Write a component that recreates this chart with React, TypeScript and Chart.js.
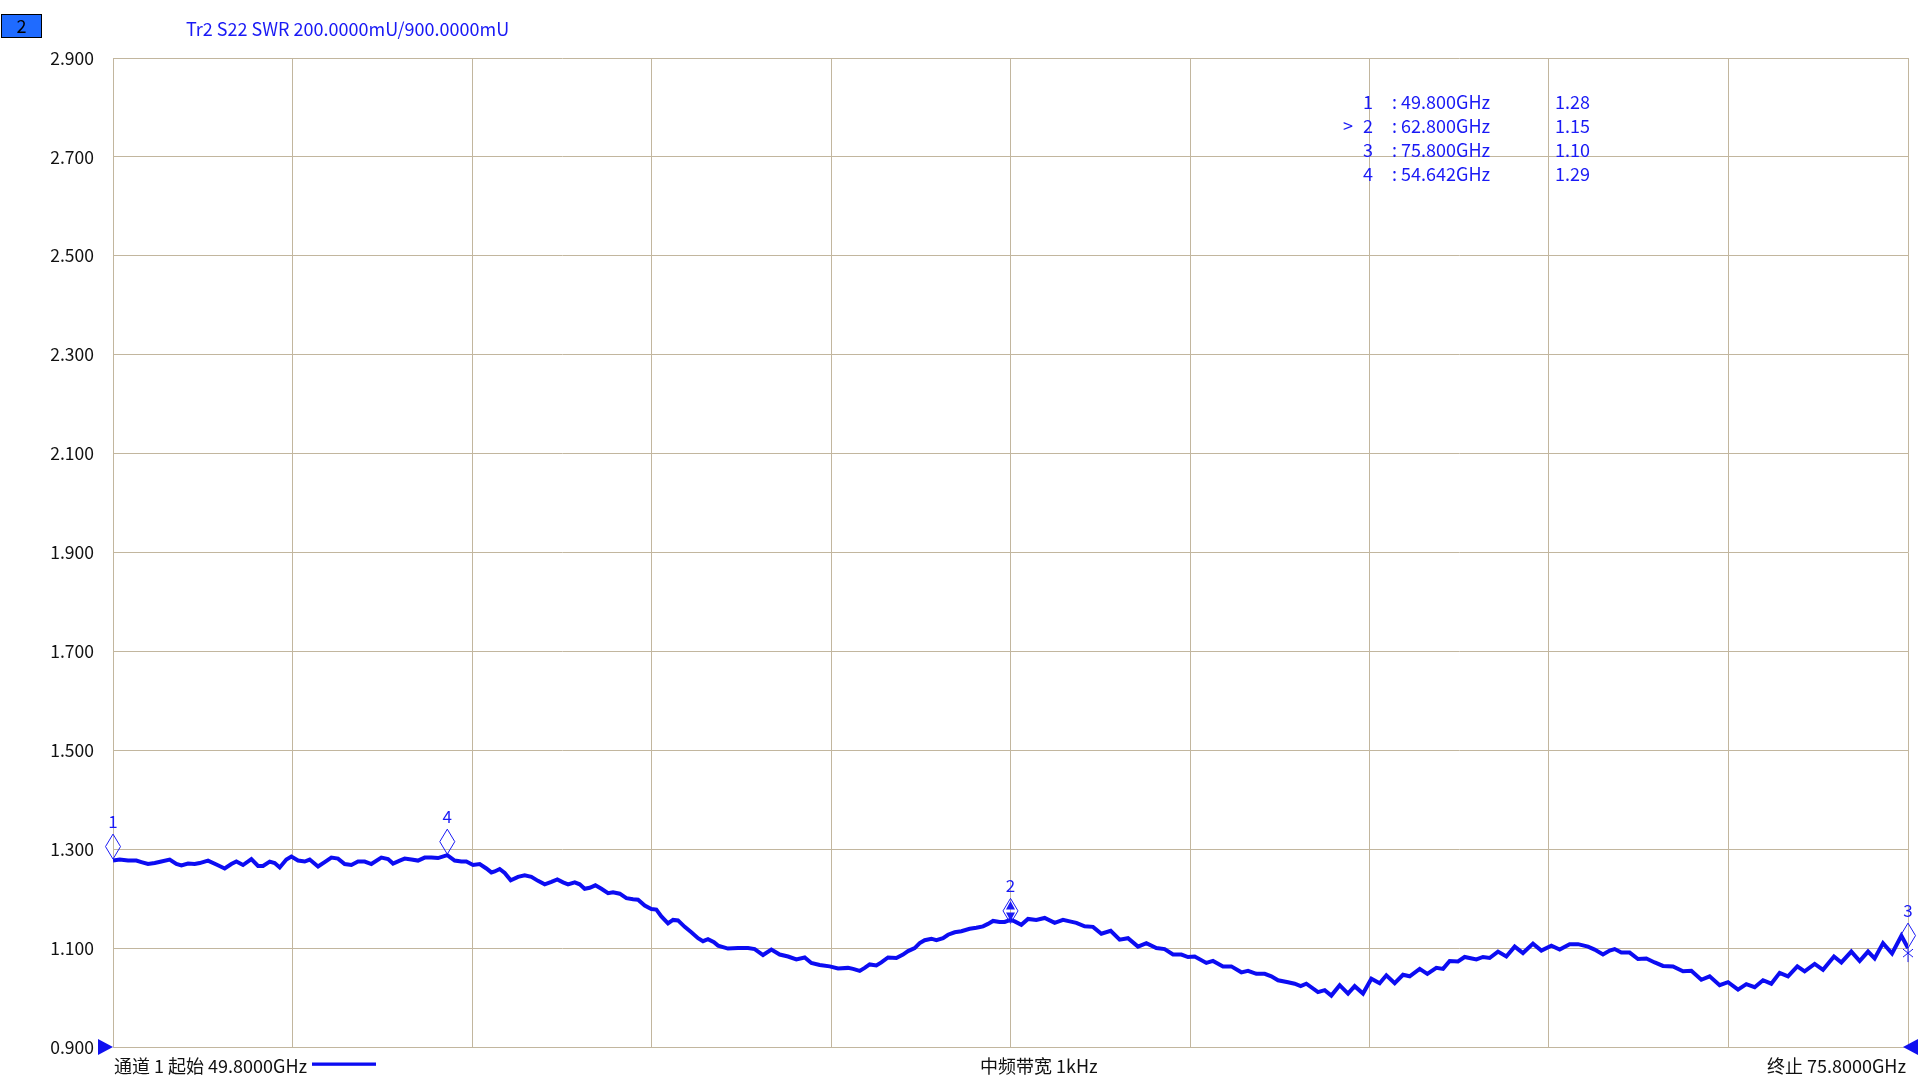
import React, { useEffect, useRef } from "react";
import { Chart, registerables } from "chart.js";

Chart.register(...registerables);

// ---------- data ----------
const freqGHz: number[] = [
  49.8, 49.897, 50.018, 50.138, 50.211, 50.307, 50.404, 50.501, 50.621, 50.718,
  50.79, 50.887, 50.983, 51.056, 51.176, 51.297, 51.418, 51.514, 51.587, 51.683,
  51.804, 51.901, 51.973, 52.07, 52.142, 52.215, 52.311, 52.384, 52.48, 52.577,
  52.649, 52.77, 52.866, 52.963, 53.059, 53.156, 53.253, 53.349, 53.446, 53.542,
  53.687, 53.784, 53.856, 53.953,
  54.025, 54.122, 54.218, 54.315, 54.411, 54.508, 54.642, 54.749, 54.846, 54.918,
  55.015, 55.112, 55.208, 55.281, 55.329, 55.401, 55.474, 55.561, 55.667, 55.763,
  55.86, 55.956, 56.053, 56.15, 56.236, 56.319, 56.391, 56.488, 56.56, 56.632,
  56.705, 56.787, 56.874, 56.971, 57.043, 57.14, 57.236, 57.333, 57.405, 57.502,
  57.598, 57.67, 57.743, 57.839, 57.912, 57.984, 58.081, 58.177, 58.274, 58.346,
  58.418, 58.505,
  58.564, 58.708, 58.853, 58.998, 59.095, 59.215, 59.336, 59.457, 59.578, 59.698,
  59.819, 59.915, 60.036, 60.181, 60.302, 60.446, 60.519, 60.616, 60.688, 60.76,
  60.857, 60.929, 61.026, 61.147, 61.243, 61.316, 61.412, 61.485, 61.557, 61.654,
  61.726, 61.823, 61.895, 61.992, 62.088, 62.209, 62.305, 62.402, 62.474, 62.547,
  62.643, 62.716, 62.8,
  62.861, 62.957, 63.054, 63.174, 63.295, 63.44, 63.561, 63.657, 63.754, 63.874,
  63.995, 64.116, 64.251, 64.381, 64.502, 64.647, 64.768, 64.912, 65.033, 65.154,
  65.275, 65.371, 65.468, 65.637, 65.733, 65.878, 65.999, 66.144, 66.24, 66.361,
  66.482, 66.578, 66.675, 66.82, 66.916, 67.003, 67.085,
  67.254, 67.351, 67.447, 67.568, 67.689, 67.785, 67.906, 68.027, 68.147, 68.244,
  68.365, 68.485, 68.582, 68.727, 68.838, 68.968, 69.065, 69.161, 69.282, 69.378,
  69.548, 69.644, 69.74, 69.861, 69.982, 70.103, 70.223, 70.368, 70.489, 70.634,
  70.755, 70.899, 71.02, 71.165, 71.261, 71.382, 71.479, 71.551,
  71.648, 71.768, 71.889, 72.01, 72.131, 72.251, 72.396, 72.541, 72.662, 72.806,
  72.927, 73.072, 73.193, 73.338, 73.458, 73.579, 73.7, 73.82, 73.941, 74.062,
  74.197, 74.303, 74.448, 74.569, 74.728, 74.835, 74.979, 75.1, 75.221, 75.317,
  75.438, 75.569, 75.704, 75.8,
];

const swrValues: number[] = [
  1.277, 1.279, 1.277, 1.277, 1.274, 1.27, 1.272, 1.275, 1.279, 1.27,
  1.267, 1.271, 1.27, 1.272, 1.277, 1.269, 1.261, 1.27, 1.275, 1.268,
  1.28, 1.266, 1.266, 1.275, 1.272, 1.263, 1.279, 1.285, 1.277, 1.275,
  1.279, 1.265, 1.274, 1.283, 1.281, 1.27, 1.268, 1.275, 1.275, 1.27,
  1.283, 1.28, 1.271, 1.277,
  1.281, 1.279, 1.277, 1.283, 1.283, 1.282, 1.288, 1.277, 1.275, 1.275,
  1.268, 1.27, 1.261, 1.253, 1.255, 1.26, 1.252, 1.237, 1.244, 1.247,
  1.244, 1.236, 1.229, 1.234, 1.239, 1.233, 1.229, 1.233, 1.229, 1.22,
  1.222, 1.227, 1.22, 1.211, 1.213, 1.21, 1.201, 1.199, 1.198, 1.186,
  1.179, 1.178, 1.164, 1.15, 1.157, 1.156, 1.143, 1.132, 1.12, 1.114,
  1.118, 1.112,
  1.105, 1.099, 1.1, 1.1, 1.098, 1.086, 1.097, 1.087, 1.083, 1.077,
  1.081, 1.07, 1.066, 1.063, 1.059, 1.06, 1.058, 1.054, 1.06, 1.067,
  1.065, 1.071, 1.081, 1.08, 1.087, 1.094, 1.1, 1.11, 1.116, 1.119,
  1.116, 1.12, 1.127, 1.132, 1.134, 1.139, 1.141, 1.144, 1.149, 1.155,
  1.153, 1.153, 1.157,
  1.154, 1.147, 1.159, 1.157, 1.161, 1.151, 1.157, 1.154, 1.151, 1.144,
  1.143, 1.129, 1.135, 1.117, 1.12, 1.103, 1.11, 1.1, 1.098, 1.087,
  1.087, 1.082, 1.083, 1.07, 1.074, 1.063, 1.063, 1.051, 1.054, 1.048,
  1.048, 1.043, 1.035, 1.031, 1.028, 1.023, 1.028,
  1.011, 1.015, 1.004, 1.025, 1.008, 1.023, 1.008, 1.038, 1.029, 1.045,
  1.029, 1.046, 1.043, 1.058, 1.048, 1.06, 1.058, 1.074, 1.073, 1.082,
  1.077, 1.082, 1.08, 1.093, 1.083, 1.103, 1.09, 1.109, 1.095, 1.105,
  1.097, 1.108, 1.108, 1.103, 1.097, 1.087, 1.095, 1.098,
  1.091, 1.091, 1.078, 1.079, 1.071, 1.064, 1.063, 1.053, 1.054, 1.036,
  1.043, 1.025, 1.031, 1.016, 1.027, 1.021, 1.035, 1.028, 1.05, 1.043,
  1.063, 1.053, 1.068, 1.056, 1.083, 1.071, 1.093, 1.074, 1.093, 1.079,
  1.11, 1.089, 1.125, 1.1,
];

const xTicks: number[] = [49.8, 52.4, 55.0, 57.6, 60.2, 62.8, 65.4, 68.0, 70.6, 73.2, 75.8];
const yTicks: number[] = [0.9, 1.1, 1.3, 1.5, 1.7, 1.9, 2.1, 2.3, 2.5, 2.7, 2.9];

const markerIds: string[] = ["1", "2", "3", "4"];
const markerFreqs: number[] = [49.8, 62.8, 75.8, 54.642];
const markerValues: number[] = [1.28, 1.15, 1.1, 1.29];
const activeMarker = "2";

const channelBadge = "2";
const traceTitle = "Tr2 S22 SWR 200.0000mU/900.0000mU";
const startLabel = "通道 1 起始 49.8000GHz";
const ifbwLabel = "中频带宽 1kHz";
const stopLabel = "终止 75.8000GHz";

// ---------- styles ----------
const FONT = '"Noto Sans CJK SC", "Noto Sans", sans-serif';
const TRACE = "#0c0cf2";
const TEXT_BLUE = "#1a1af5";
const GRID = "#c2b69e";

const overlayPlugin = {
  id: "vnaOverlay",
  afterDraw(chart: any) {
    const ctx: CanvasRenderingContext2D = chart.ctx;
    const xs = chart.scales.x;
    const ys = chart.scales.y;
    const area = chart.chartArea;
    ctx.save();

    // markers
    markerIds.forEach((id, i) => {
      const px = xs.getPixelForValue(markerFreqs[i]);
      const py = ys.getPixelForValue(markerValues[i]);
      const hw = 7.5;
      const hh = 12.5;
      const cy = py - hh;
      ctx.strokeStyle = TEXT_BLUE;
      ctx.lineWidth = 1;
      ctx.beginPath();
      ctx.moveTo(px, cy - hh);
      ctx.lineTo(px + hw, cy);
      ctx.lineTo(px, cy + hh);
      ctx.lineTo(px - hw, cy);
      ctx.closePath();
      ctx.stroke();
      if (id === activeMarker) {
        ctx.fillStyle = TEXT_BLUE;
        ctx.beginPath();
        ctx.moveTo(px, cy - 10);
        ctx.lineTo(px + 4.5, cy - 1.5);
        ctx.lineTo(px - 4.5, cy - 1.5);
        ctx.closePath();
        ctx.fill();
        ctx.beginPath();
        ctx.moveTo(px, cy + 10);
        ctx.lineTo(px + 4.5, cy + 1.5);
        ctx.lineTo(px - 4.5, cy + 1.5);
        ctx.closePath();
        ctx.fill();
      }
      if (px >= area.right - 1) {
        ctx.beginPath();
        ctx.moveTo(px, py);
        ctx.lineTo(px, py + 14);
        ctx.moveTo(px - 5, py + 1);
        ctx.lineTo(px + 5, py + 9);
        ctx.moveTo(px + 5, py + 1);
        ctx.lineTo(px - 5, py + 9);
        ctx.stroke();
      }
      ctx.fillStyle = TEXT_BLUE;
      ctx.font = `17px ${FONT}`;
      ctx.textAlign = "center";
      ctx.textBaseline = "middle";
      ctx.fillText(id, px, cy - hh - 13);
    });

    // badge
    ctx.fillStyle = "#1f6bff";
    ctx.fillRect(1.5, 14.5, 40, 23);
    ctx.strokeStyle = "#000";
    ctx.lineWidth = 1;
    ctx.strokeRect(1.5, 14.5, 40, 23);
    ctx.fillStyle = "#000";
    ctx.font = `18px ${FONT}`;
    ctx.textAlign = "center";
    ctx.textBaseline = "middle";
    ctx.fillText(channelBadge, 21.5, 26.5);

    // title
    ctx.fillStyle = TEXT_BLUE;
    ctx.textAlign = "left";
    ctx.fillText(traceTitle, 186, 29);

    // marker table
    markerIds.forEach((id, i) => {
      const y = 102 + i * 24.2;
      ctx.fillStyle = TEXT_BLUE;
      ctx.textAlign = "center";
      if (id === activeMarker) ctx.fillText(">", 1348, y);
      ctx.fillText(id, 1368, y);
      ctx.textAlign = "left";
      ctx.fillText(": " + markerFreqs[i].toFixed(3) + "GHz", 1392, y);
      ctx.fillText(markerValues[i].toFixed(2), 1555, y);
    });

    // bottom annotations
    ctx.fillStyle = "#111";
    ctx.textAlign = "left";
    ctx.fillText(startLabel, 114, 1066);
    ctx.fillText(ifbwLabel, 980, 1066);
    ctx.textAlign = "right";
    ctx.fillText(stopLabel, 1906, 1066);
    ctx.fillStyle = TRACE;
    ctx.fillRect(312, 1062.5, 64, 3.3);

    // reference triangles
    const by = area.bottom;
    ctx.fillStyle = "#1010f0";
    ctx.beginPath();
    ctx.moveTo(area.left, by);
    ctx.lineTo(area.left - 15, by - 8);
    ctx.lineTo(area.left - 15, by + 8);
    ctx.closePath();
    ctx.fill();
    ctx.beginPath();
    ctx.moveTo(area.right - 5, by);
    ctx.lineTo(area.right + 10, by - 8);
    ctx.lineTo(area.right + 10, by + 8);
    ctx.closePath();
    ctx.fill();

    ctx.restore();
  },
};

export default function App() {
  const ref = useRef<HTMLCanvasElement | null>(null);

  useEffect(() => {
    if (!ref.current) return;
    const points = freqGHz.map((f, i) => ({ x: f, y: swrValues[i] }));
    const chart = new Chart(ref.current, {
      type: "line",
      data: {
        datasets: [
          {
            data: points,
            borderColor: TRACE,
            borderWidth: 4,
            pointRadius: 0,
            tension: 0,
            fill: false,
          },
        ],
      },
      options: {
        animation: false,
        responsive: false,
        devicePixelRatio: 1,
        layout: { padding: { left: 0, top: 58, right: 10, bottom: 33 } },
        plugins: { legend: { display: false }, tooltip: { enabled: false } },
        scales: {
          x: {
            type: "linear",
            min: xTicks[0],
            max: xTicks[xTicks.length - 1],
            afterBuildTicks: (s: any) => {
              s.ticks = xTicks.map((v) => ({ value: v }));
            },
            afterFit: (s: any) => {
              s.height = 0;
            },
            ticks: { display: false },
            grid: { color: GRID, lineWidth: 1, drawTicks: false },
            border: { color: GRID, width: 1 },
          },
          y: {
            type: "linear",
            min: yTicks[0],
            max: yTicks[yTicks.length - 1],
            afterBuildTicks: (s: any) => {
              s.ticks = yTicks.map((v) => ({ value: v }));
            },
            afterFit: (s: any) => {
              s.width = 113;
            },
            ticks: {
              padding: 19,
              color: "#111",
              font: { family: FONT, size: 17.5 },
              callback: (v: any) => Number(v).toFixed(3),
            },
            grid: { color: GRID, lineWidth: 1, drawTicks: false },
            border: { color: GRID, width: 1 },
          },
        },
      },
      plugins: [overlayPlugin],
    });
    return () => chart.destroy();
  }, []);

  return (
    <div style={{ position: "absolute", left: 0, top: 0, width: 1918, height: 1080, background: "#fff" }}>
      <canvas ref={ref} width={1918} height={1080} style={{ width: 1918, height: 1080, display: "block" }} />
    </div>
  );
}
